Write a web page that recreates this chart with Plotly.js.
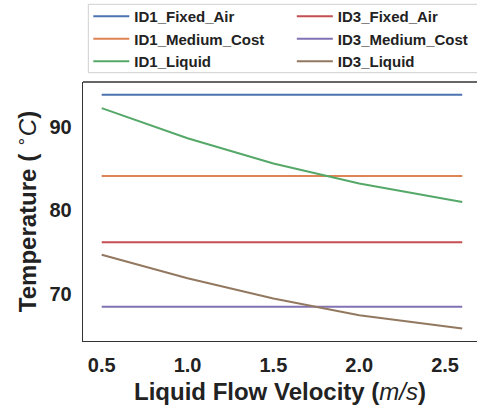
<!DOCTYPE html>
<html>
<head>
<meta charset="utf-8">
<script src="https://cdn.plot.ly/plotly-3.0.1.min.js"></script>
<style>html,body{margin:0;padding:0;background:#fff;}#chart{width:477px;height:407px;}</style>
</head>
<body>
<div id="chart"></div>
<script>
var velocity = [0.5, 1.0, 1.5, 2.0, 2.6];
var id1FixedAir = [93.8, 93.8, 93.8, 93.8, 93.8];
var id1MediumCost = [84.1, 84.1, 84.1, 84.1, 84.1];
var id1Liquid = [92.2, 88.6, 85.6, 83.2, 81.0];
var id3FixedAir = [76.2, 76.2, 76.2, 76.2, 76.2];
var id3MediumCost = [68.5, 68.5, 68.5, 68.5, 68.5];
var id3Liquid = [74.7, 71.9, 69.5, 67.5, 65.9];
var xTicks = [0.5, 1.0, 1.5, 2.0, 2.5];
var xTickText = ['0.5', '1.0', '1.5', '2.0', '2.5'];
var yTicks = [70, 80, 90];

var FONT = 'Liberation Sans, Arial, sans-serif';
function tr(name, y, color, leg) {
  return {x: velocity, y: y, name: name, mode: 'lines', type: 'scatter',
    line: {color: color, width: 2}, legend: leg};
}
var data = [
  tr('ID1_Fixed_Air', id1FixedAir, '#4C72B0', 'legend'),
  tr('ID1_Medium_Cost', id1MediumCost, '#DD8452', 'legend'),
  tr('ID1_Liquid', id1Liquid, '#55A868', 'legend'),
  tr('ID3_Fixed_Air', id3FixedAir, '#C44E52', 'legend2'),
  tr('ID3_Medium_Cost', id3MediumCost, '#8172B3', 'legend2'),
  tr('ID3_Liquid', id3Liquid, '#937860', 'legend2')
];
var legFont = {family: FONT, size: 15, color: '#222', weight: 'bold'};
var layout = {
  width: 477, height: 407,
  margin: {l: 83, r: 0, t: 82, b: 66},
  paper_bgcolor: '#fff', plot_bgcolor: '#fff',
  showlegend: true,
  xaxis: {
    range: [0.391, 2.686], tickvals: xTicks, ticktext: xTickText,
    showgrid: false, zeroline: false, showline: true, linecolor: '#333', linewidth: 1.3,
    ticks: 'outside', ticklen: 6, tickcolor: 'rgba(0,0,0,0)',
    tickfont: {family: FONT, size: 20, color: '#222', weight: 'bold'},
    title: {text: 'Liquid Flow Velocity (<span style="font-weight:normal"><i>m/s</i></span>)',
      font: {family: FONT, size: 24, color: '#222', weight: 'bold'}, standoff: 8}
  },
  yaxis: {
    range: [64.42, 95.31], tickvals: yTicks,
    showgrid: false, zeroline: false, showline: true, linecolor: '#333', linewidth: 1.3,
    ticks: 'outside', ticklen: 6, tickcolor: 'rgba(0,0,0,0)',
    tickfont: {family: FONT, size: 20, color: '#222', weight: 'bold'},
    title: {text: 'Temperature ( <sup><span style="font-weight:normal">∘</span></sup><span style="font-weight:normal"><i>C</i></span>)',
      font: {family: FONT, size: 24, color: '#222', weight: 'bold'}, standoff: 6}
  },
  legend: {orientation: 'v', x: 0.0135, y: 1.318, xanchor: 'left', yanchor: 'top',
    font: legFont, bgcolor: 'rgba(0,0,0,0)', borderwidth: 0, itemwidth: 36},
  legend2: {orientation: 'v', x: 0.53, y: 1.318, xanchor: 'left', yanchor: 'top',
    font: legFont, bgcolor: 'rgba(0,0,0,0)', borderwidth: 0, itemwidth: 36},
  shapes: [
    {type: 'line', xref: 'paper', yref: 'paper', x0: 0, x1: 1, y0: 1, y1: 1,
      line: {color: '#333', width: 1.3}},
    {type: 'rect', xref: 'paper', yref: 'paper', x0: 0.0135, x1: 1.05, y0: 1.036, y1: 1.3,
      line: {color: '#d0d0d0', width: 1}, fillcolor: 'rgba(0,0,0,0)', layer: 'below'}
  ]
};
Plotly.newPlot('chart', data, layout, {displayModeBar: false, staticPlot: true});
</script>
</body>
</html>
